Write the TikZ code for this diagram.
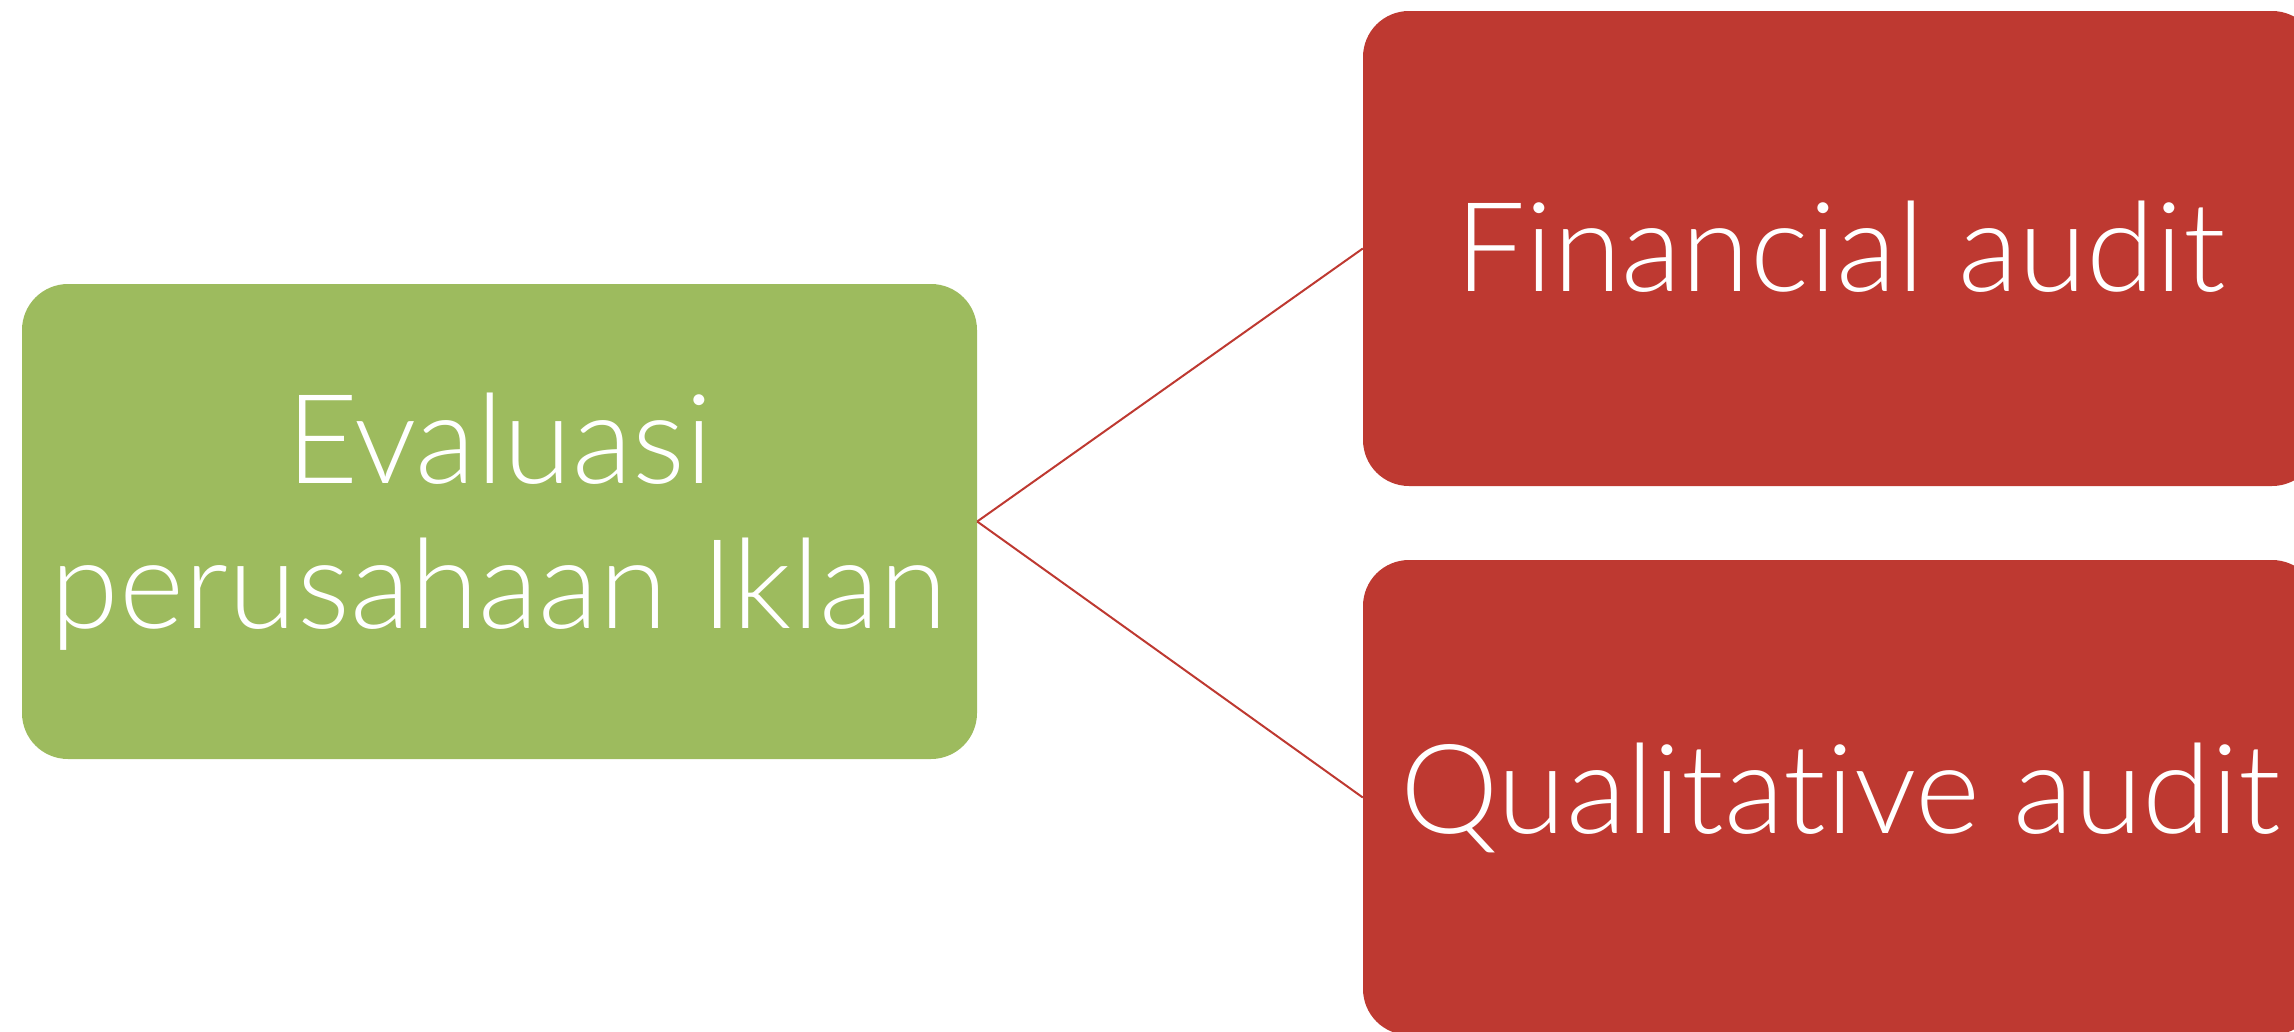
\documentclass[tikz,border=0pt]{standalone}
\usepackage{fontspec}
\setmainfont{Lato Light}[Scale=0.95,Ligatures=NoCommon,RawFeature=-liga]
\definecolor{boxgreen}{RGB}{157,187,94}
\definecolor{boxred}{RGB}{190,57,49}
\begin{document}
\begin{tikzpicture}[x=1pt,y=-1pt,
  box/.style={rectangle, rounded corners=46pt, minimum width=955pt, minimum height=475pt,
    inner sep=0pt, text=white, align=center, font=\fontsize{131}{145}\selectfont},
  link/.style={draw=boxred, line width=2pt}]
\useasboundingbox (0,0) rectangle (2294,1031);
\clip (0,0) rectangle (2294,1031);
\node[box, fill=boxgreen] (g) at (499.5,521.5) {Evaluasi\\perusahaan Iklan};
\node[box, fill=boxred] (r1) at (1840.5,248.5) {\raisebox{5pt}{Financial audit}};
\node[box, fill=boxred] (r2) at (1840.5,797.5) {Qualitative audit};
\draw[link] (g.east) -- (r1.west);
\draw[link] (g.east) -- (r2.west);
\end{tikzpicture}
\end{document}
